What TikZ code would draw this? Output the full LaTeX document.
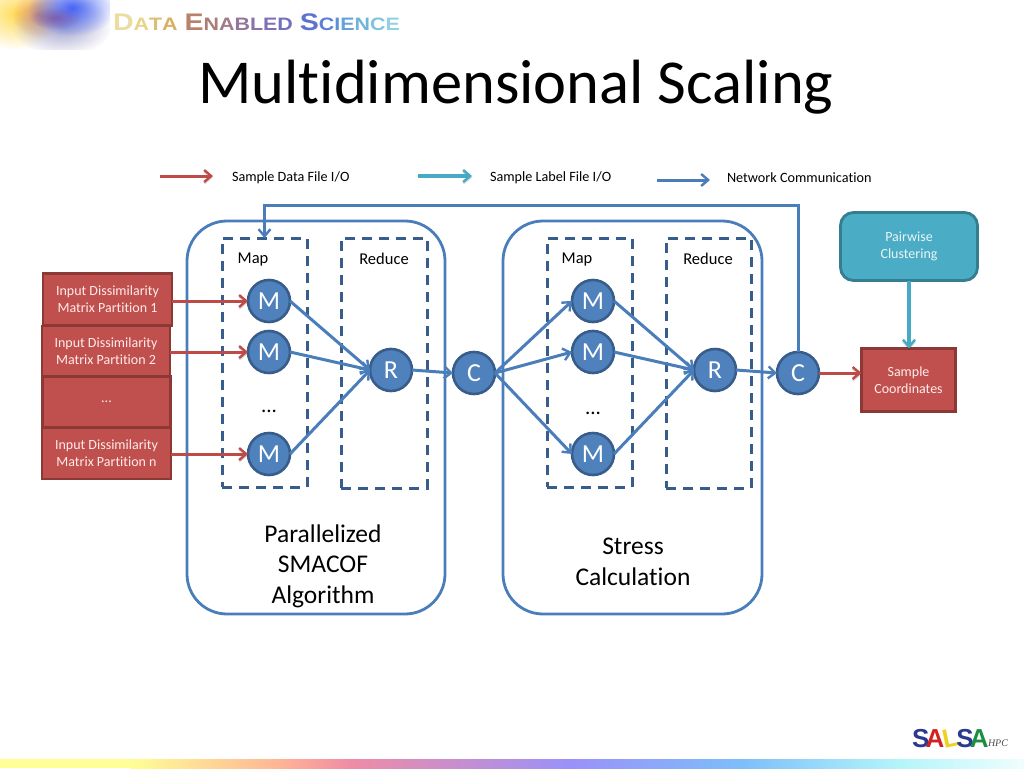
\documentclass[tikz,border=0pt]{standalone}
\usepackage{fontspec}
\setmainfont[Ligatures=NoCommon]{Carlito}
\newfontfamily\logofont{Liberation Sans}
\newfontfamily\brandfont[FakeStretch=1.19]{Liberation Sans}
\newfontfamily\hpcfont{Liberation Serif}
\usetikzlibrary{arrows.meta,fadings,positioning}
\tikzfading[name=glowfade,inner color=transparent!0,outer color=transparent!100]
\definecolor{bluefill}{HTML}{4F81BD}
\definecolor{blueedge}{HTML}{385D8A}
\definecolor{redfill}{HTML}{C0504D}
\definecolor{rededge}{HTML}{8C3836}
\definecolor{tealfill}{HTML}{4BACC6}
\definecolor{tealedge}{HTML}{357D91}
\definecolor{arrowblue}{HTML}{4A7EBB}
\definecolor{arrowred}{HTML}{BE4B48}
\definecolor{arrowteal}{HTML}{46AAC5}
\definecolor{glowa}{RGB}{255,215,60}
\definecolor{glowb}{RGB}{235,130,60}
\definecolor{glowc}{RGB}{150,150,200}
\definecolor{glowd}{RGB}{70,100,245}
\definecolor{glowe}{RGB}{120,60,140}
\definecolor{bara}{RGB}{255,255,150}
\definecolor{barb}{RGB}{255,180,150}
\definecolor{barc}{RGB}{240,140,165}
\definecolor{bard}{RGB}{155,145,250}
\definecolor{bare}{RGB}{125,190,250}
\definecolor{barf}{RGB}{180,245,250}
\definecolor{barg}{RGB}{240,253,253}
\newcommand{\fs}[2]{\fontsize{#1}{#2}\selectfont}
\newcommand{\dn}[1]{\raisebox{-2.4pt}{#1}}
\tikzset{
  container/.style={draw=arrowblue,line width=2.8pt,rounded corners=40pt,inner sep=0pt,outer sep=0pt},
  phasebox/.style={draw=blueedge,line width=3pt,dash pattern=on 10pt off 7pt,inner sep=0pt,outer sep=0pt},
  proc/.style={circle,draw=blueedge,line width=2.6pt,fill=bluefill,text=white,minimum size=42pt,inner sep=0pt,outer sep=0pt,font=\fs{26}{28}},
  inputbox/.style={draw=rededge,line width=2.4pt,fill=redfill,text=white!92!red,inner sep=0pt,outer sep=0pt,align=center,font=\fs{14}{17}},
  tealbox/.style={draw=tealedge,line width=2.8pt,fill=tealfill,text=white!92!teal,rounded corners=13pt,inner sep=0pt,outer sep=0pt,align=center,font=\fs{14}{17}},
  plain/.style={inner sep=0pt,outer sep=0pt,text=black,align=center},
  softline/.style={preaction={draw=black,opacity=.15,transform canvas={yshift=-1.5pt}}},
  netarrow/.style={draw=arrowblue,line width=3pt,-{Straight Barb[length=7pt,width=12pt,line width=2.4pt]}},
  filearrow/.style={softline,draw=arrowred,line width=3pt,-{Straight Barb[length=7pt,width=12pt,line width=2.4pt]}},
  labelarrow/.style={softline,draw=arrowteal,line width=3.3pt,-{Straight Barb[length=7pt,width=12pt,line width=2.4pt]}},
  glow/.style={path fading=glowfade,fill=#1},
}
\begin{document}
\begin{tikzpicture}[x=1pt,y=-1pt]
\useasboundingbox (0,0) rectangle (1024,768);
\fill[white] (0,0) rectangle (1024,768);
% corner glow
\begin{scope}
\clip (0,0) rectangle (110,50);
\fill[glow=glowa,opacity=.85] (16,14) ellipse (46 and 36);
\fill[glow=glowb,opacity=.8] (38,14) ellipse (26 and 24);
\fill[glow=glowc,opacity=.9] (62,26) ellipse (50 and 30);
\fill[glow=glowd] (72,8) ellipse (44 and 28);
\fill[glow=glowe,opacity=.55] (55,18) ellipse (26 and 11);
\end{scope}
% header wordmark
\node[plain,anchor=base west,font=\brandfont\bfseries] (brand) at (113,31) {%
  \fs{24}{24}\textcolor[HTML]{E9DDA0}{D}\fs{18}{18}\textcolor[HTML]{E6D488}{A}\textcolor[HTML]{DDBE70}{T}\textcolor[HTML]{D9B060}{A}\hspace{7pt}%
  \fs{24}{24}\textcolor[HTML]{B8826A}{E}\fs{18}{18}\textcolor[HTML]{AC7C78}{N}\textcolor[HTML]{A07A88}{A}\textcolor[HTML]{94769A}{B}\textcolor[HTML]{8A72A8}{L}\textcolor[HTML]{7E70B4}{E}\textcolor[HTML]{7470BE}{D}\hspace{7pt}%
  \fs{24}{24}\textcolor[HTML]{5C74D0}{S}\fs{18}{18}\textcolor[HTML]{5C80D4}{C}\textcolor[HTML]{5E90D6}{I}\textcolor[HTML]{64A2D8}{E}\textcolor[HTML]{70B4DC}{N}\textcolor[HTML]{80C4E0}{C}\textcolor[HTML]{90D2E4}{E}};
% title
\node[plain,anchor=center,font=\fs{62.5}{64}] (title) at (516,87) {Multidimensional Scaling};
% legend
\coordinate (lra) at (160,176); \coordinate (lrb) at (213,176);
\coordinate (lta) at (418,176); \coordinate (ltb) at (472,176);
\coordinate (lba) at (657,180); \coordinate (lbb) at (710,180);
\draw[filearrow] (lra) -- (lrb);
\draw[labelarrow] (lta) -- (ltb);
\draw[netarrow] (lba) -- (lbb);
\node[plain,anchor=west,font=\fs{14.2}{16}] (l1) at (232,177.5) {Sample Data File I/O};
\node[plain,anchor=west,font=\fs{14.2}{16}] (l2) at (490,177.5) {Sample Label File I/O};
\node[plain,anchor=west,font=\fs{14.2}{16}] (l3) at (727,178) {Network Communication};
% containers
\node[container,minimum width=258pt,minimum height=393pt] (algo) at (316,417.5) {};
\node[container,minimum width=259pt,minimum height=393pt] (stress) at (632.5,417.5) {};
\node[phasebox,minimum width=85pt,minimum height=249pt] (map1) at (264.5,362.5) {};
\node[phasebox,minimum width=86pt,minimum height=250pt] (red1) at (384,363) {};
\node[phasebox,minimum width=85pt,minimum height=249pt] (map2) at (589.5,362.5) {};
\node[phasebox,minimum width=85pt,minimum height=250pt] (red2) at (708.5,363) {};
\node[plain,font=\fs{16.5}{18}] (tm1) at (253,259.5) {Map};
\node[plain,font=\fs{16.5}{18}] (tr1) at (384,259) {Reduce};
\node[plain,font=\fs{16.5}{18}] (tm2) at (577,259.5) {Map};
\node[plain,font=\fs{16.5}{18}] (tr2) at (708,259) {Reduce};
\node[plain,font=\fs{25.5}{30.5}] (algot) at (323,566) {Parallelized\\SMACOF\\Algorithm};
\node[plain,font=\fs{25.5}{30.5}] (strt) at (633,562) {Stress\\Calculation};
\node[plain,font=\fs{21}{22}] (dots1) at (269,411) {...};
\node[plain,font=\fs{21}{22}] (dots2) at (593,413) {...};
% input boxes
\node[inputbox,minimum width=129pt,minimum height=52pt] (in1) at (107.5,299.5) {\dn{Input Dissimilarity}\\\dn{Matrix Partition 1}};
\node[inputbox,minimum width=128pt,minimum height=51pt] (in2) at (106,351.5) {\dn{Input Dissimilarity}\\\dn{Matrix Partition 2}};
\node[inputbox,minimum width=128pt,minimum height=51pt] (in3) at (106.5,402) {...};
\node[inputbox,minimum width=129pt,minimum height=51pt] (in4) at (106.5,453.5) {\dn{Input Dissimilarity}\\\dn{Matrix Partition n}};
% processes
\node[proc] (m1) at (269,301) {M};
\node[proc] (m2) at (269,352) {M};
\node[proc] (m3) at (269,454) {M};
\node[proc] (r1) at (391,370) {R};
\node[proc] (c1) at (474,373) {C};
\node[proc] (m4) at (593,301) {M};
\node[proc] (m5) at (593,352) {M};
\node[proc] (m6) at (593,454) {M};
\node[proc] (r2) at (715,370) {R};
\node[proc] (c2) at (798,373) {C};
% outputs
\node[tealbox,minimum width=137pt,minimum height=68pt] (pc) at (909,246.5) {\dn{Pairwise}\\\dn{Clustering}};
\node[inputbox,minimum width=94pt,minimum height=63pt] (sc) at (908.5,380) {\dn{Sample}\\\dn{Coordinates}};
% connectors
\draw[filearrow] (in1.east |- m1.west) -- (m1.west);
\draw[filearrow] (in2.east |- m2.west) -- (m2.west);
\draw[filearrow] (in4.east |- m3.west) -- (m3.west);
\draw[netarrow] (m1.east) -- (r1.west);
\draw[netarrow] (m2.east) -- (r1.west);
\draw[netarrow] (m3.east) -- (r1.west);
\draw[netarrow] (r1.east) -- (c1.west);
\draw[netarrow] (c1.east) -- (m4.west);
\draw[netarrow] (c1.east) -- (m5.west);
\draw[netarrow] (c1.east) -- (m6.west);
\draw[netarrow] (m4.east) -- (r2.west);
\draw[netarrow] (m5.east) -- (r2.west);
\draw[netarrow] (m6.east) -- (r2.west);
\draw[netarrow] (r2.east) -- (c2.west);
\coordinate (fb) at (0,205);
\draw[netarrow] (c2.north) -- (c2.north |- fb) -- (map1.north |- fb) -- (map1.north);
\draw[filearrow] (c2.east) -- (sc.west |- c2.east);
\draw[labelarrow] (pc.south) -- (sc.north -| pc.south);
% footer bar
\fill[bara] (0,759) rectangle (130,768);
\shade[left color=bara,right color=barb] (130,759) rectangle (280,768);
\shade[left color=barb,right color=barc] (280,759) rectangle (350,768);
\shade[left color=barc,right color=bard] (350,759) rectangle (570,768);
\shade[left color=bard,right color=bare] (570,759) rectangle (740,768);
\shade[left color=bare,right color=barf] (740,759) rectangle (900,768);
\shade[left color=barf,right color=barg] (900,759) rectangle (1024,768);
% logo
\node[plain,anchor=base west,font=\logofont\bfseries\fs{26}{26}] (salsa) at (912,747) {\textcolor[HTML]{2B3A8C}{S}\kern-3.7pt\textcolor[HTML]{D32020}{A}\kern-3.7pt\rotatebox[origin=c]{12}{\textcolor[HTML]{F0D020}{L}}\kern-3.7pt\textcolor[HTML]{2B3A8C}{S}\kern-3.7pt\textcolor[HTML]{189040}{A}};
\node[plain,anchor=base west,font=\hpcfont\itshape\fs{10}{10},text=black!70] (hpc) at (988,746) {HPC};
\end{tikzpicture}
\end{document}
